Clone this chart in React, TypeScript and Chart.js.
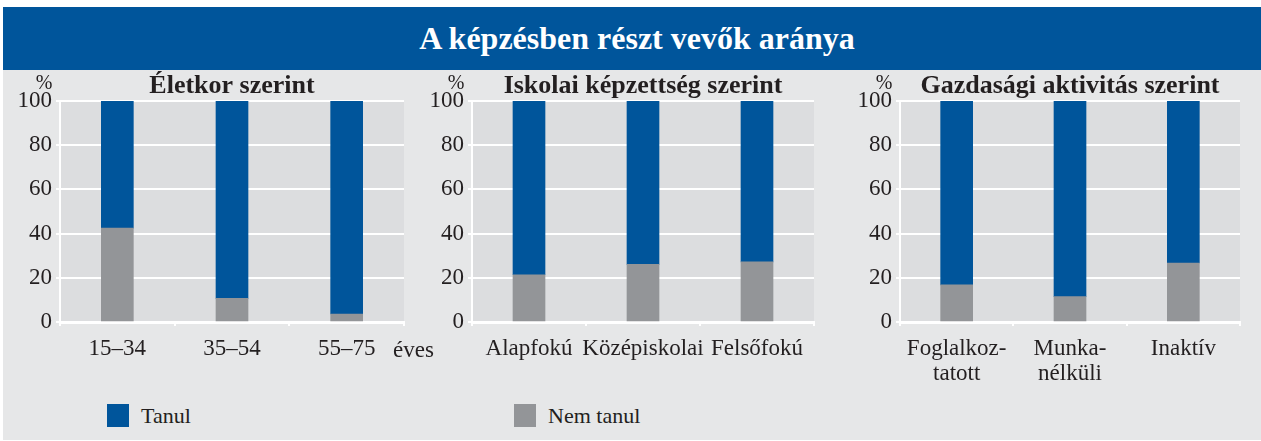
import React, { useEffect, useRef } from "react";
import { Chart, registerables } from "chart.js";

Chart.register(...registerables);

const mainTitle = "A képzésben részt vevők aránya";
const seriesNames = ["Tanul", "Nem tanul"];
const yTicks = [0, 20, 40, 60, 80, 100];

const ageTitle = "Életkor szerint";
const ageLabels = ["15–34", "35–54", "55–75"];
const ageTanul = [57.5, 89.3, 96.4];
const ageNemTanul = [42.5, 10.7, 3.6];

const eduTitle = "Iskolai képzettség szerint";
const eduLabels = ["Alapfokú", "Középiskolai", "Felsőfokú"];
const eduTanul = [78.6, 73.9, 72.8];
const eduNemTanul = [21.4, 26.1, 27.2];

const actTitle = "Gazdasági aktivitás szerint";
const actLabels = [["Foglalkoz-", "tatott"], ["Munka-", "nélküli"], "Inaktív"];
const actTanul = [83.2, 88.5, 73.3];
const actNemTanul = [16.8, 11.5, 26.7];

const BLUE = "#00559b";
const GREY = "#939598";
const PLOT_BG = "#dcdddf";
const PAGE_BG = "#e6e7e8";
const TEXT = "#231f20";
const FAMILY = "Liberation Serif";
const FONT = '"Liberation Serif", serif';

Chart.defaults.font.family = FAMILY;

type PanelProps = {
  left: number;
  width: number;
  yw: number;
  padRight: number;
  title: string;
  labels: any[];
  tanul: number[];
  nem: number[];
  unitText?: string;
};

const TOP = 70;
const HEIGHT = 330;

function Panel(props: PanelProps) {
  const ref = useRef<HTMLCanvasElement>(null);
  useEffect(() => {
    const canvas = ref.current!;
    const decor = {
      id: "decor",
      beforeDraw(chart: any) {
        const { ctx, chartArea } = chart;
        ctx.save();
        ctx.fillStyle = PLOT_BG;
        ctx.fillRect(chartArea.left, chartArea.top, chartArea.right - chartArea.left, chartArea.bottom - chartArea.top);
        ctx.restore();
      },
      afterDraw(chart: any) {
        const { ctx, chartArea } = chart;
        ctx.save();
        ctx.fillStyle = TEXT;
        ctx.font = `bold 26px ${FONT}`;
        ctx.textAlign = "center";
        ctx.textBaseline = "alphabetic";
        ctx.fillText(props.title, (chartArea.left + chartArea.right) / 2, 93 - TOP);
        ctx.font = `20px ${FONT}`;
        ctx.fillText("%", chartArea.left - 16, 89 - TOP);
        if (props.unitText) {
          ctx.font = `23px ${FONT}`;
          ctx.textAlign = "left";
          ctx.fillText(props.unitText, 393 - props.left, 357 - TOP);
        }
        ctx.restore();
      },
    };
    const chart = new Chart(canvas, {
      type: "bar",
      data: {
        labels: props.labels,
        datasets: [
          {
            label: seriesNames[1],
            data: props.nem,
            backgroundColor: GREY,
            barThickness: 32,
            order: 1,
          },
          {
            label: seriesNames[0],
            data: props.tanul,
            backgroundColor: BLUE,
            barThickness: 32,
            order: 2,
          },
        ],
      },
      options: {
        animation: false,
        responsive: false,
        maintainAspectRatio: false,
        layout: { padding: { top: 31, right: props.padRight, left: 0, bottom: 0 } },
        plugins: {
          legend: { display: false },
          title: { display: false },
          tooltip: { enabled: false },
        },
        scales: {
          x: {
            stacked: true,
            afterFit: (s: any) => {
              s.height = HEIGHT - 31 - (322 - 101);
            },
            grid: {
              offset: true,
              drawOnChartArea: true,
              color: (c: any) => (c.index === 0 || c.index === props.labels.length ? "#ffffff" : "rgba(0,0,0,0)"),
              tickColor: "#ffffff",
              lineWidth: 2,
              tickLength: 4,
            },
            border: { display: true, color: "#ffffff", width: 3 },
            ticks: {
              color: TEXT,
              font: { family: FAMILY, size: 23, lineHeight: 1.1 },
              padding: 10,
              maxRotation: 0,
              autoSkip: false,
            },
          },
          y: {
            stacked: true,
            min: 0,
            max: 100,
            afterFit: (s: any) => {
              s.width = props.yw;
            },
            afterBuildTicks: (s: any) => {
              s.ticks = yTicks.map((v) => ({ value: v }));
            },
            grid: { color: "#ffffff", lineWidth: 2, tickLength: 4 },
            border: { display: true, color: "#ffffff", width: 2 },
            ticks: {
              color: TEXT,
              font: { family: FAMILY, size: 23 },
              padding: 4,
            },
          },
        },
      },
      plugins: [decor],
    });
    return () => chart.destroy();
  }, []);
  return (
    <canvas
      ref={ref}
      width={props.width}
      height={HEIGHT}
      style={{ position: "absolute", left: props.left, top: TOP, width: props.width, height: HEIGHT }}
    />
  );
}

export default function App() {
  return (
    <div style={{ position: "absolute", left: 0, top: 0, width: 1261, height: 441, background: "#ffffff", overflow: "hidden", fontFamily: FONT }}>
      <div
        style={{
          position: "absolute",
          left: 3,
          top: 7,
          width: 1258,
          height: 63,
          background: BLUE,
          color: "#ffffff",
          display: "flex",
          alignItems: "center",
          justifyContent: "center",
          fontWeight: "bold",
          fontSize: 32,
          paddingLeft: 10,
          boxSizing: "border-box",
        }}
      >
        {mainTitle}
      </div>
      <div style={{ position: "absolute", left: 3, top: 70, width: 1258, height: 370, background: PAGE_BG }} />
      <Panel left={0} width={440} yw={60} padRight={36} title={ageTitle} labels={ageLabels} tanul={ageTanul} nem={ageNemTanul} unitText="éves" />
      <Panel left={420} width={420} yw={52} padRight={26} title={eduTitle} labels={eduLabels} tanul={eduTanul} nem={eduNemTanul} />
      <Panel left={840} width={421} yw={60} padRight={21} title={actTitle} labels={actLabels} tanul={actTanul} nem={actNemTanul} />
      {[0, 1].map((i) => (
        <div key={i} style={{ position: "absolute", left: i === 0 ? 107 : 514, top: 404, height: 23, display: "flex", alignItems: "center" }}>
          <div style={{ width: 22, height: 23, background: i === 0 ? BLUE : GREY }} />
          <span style={{ marginLeft: 12, fontSize: 22, color: TEXT, lineHeight: "23px" }}>{seriesNames[i]}</span>
        </div>
      ))}
    </div>
  );
}
